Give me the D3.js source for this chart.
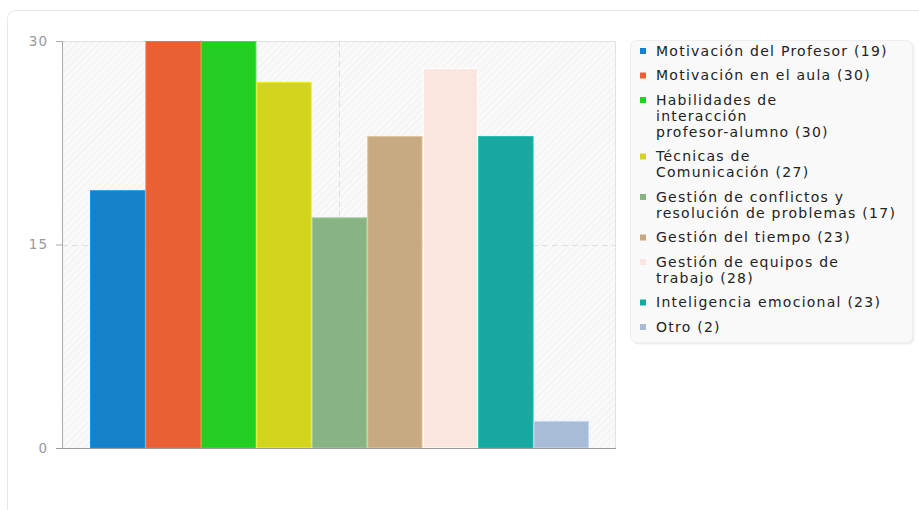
<!DOCTYPE html>
<html><head><meta charset="utf-8">
<script src="https://cdn.jsdelivr.net/npm/d3@7"></script>
<style>
body{margin:0;background:#fff;font-family:"DejaVu Sans",sans-serif;}
svg{display:block;}
</style></head>
<body>
<svg id="c" width="919" height="510"></svg>
<script>
const categories = ["Motivación del Profesor","Motivación en el aula","Habilidades de interacción profesor-alumno","Técnicas de Comunicación","Gestión de conflictos y resolución de problemas","Gestión del tiempo","Gestión de equipos de trabajo","Inteligencia emocional","Otro"];
const values = [19,30,30,27,17,23,28,23,2];
const colors = ["#1481c8","#e86033","#22cf22","#d2d41e","#88b383","#c8aa82","#fae6de","#17a89f","#a8bcd6"];
const legendLines = [
 ["Motivación del Profesor (19)"],
 ["Motivación en el aula (30)"],
 ["Habilidades de","interacción","profesor-alumno (30)"],
 ["Técnicas de","Comunicación (27)"],
 ["Gestión de conflictos y","resolución de problemas (17)"],
 ["Gestión del tiempo (23)"],
 ["Gestión de equipos de","trabajo (28)"],
 ["Inteligencia emocional (23)"],
 ["Otro (2)"]
];
const yTicks = [0,15,30];

const svg = d3.select("#c");
svg.append("rect").attr("x",7.5).attr("y",10.5).attr("width",930).attr("height",520).attr("rx",8)
  .attr("fill","#fff").attr("stroke","#e8e8e8");

const L=62,R=616,T=41,B=448;
const defs = svg.append("defs");
const pat = defs.append("pattern").attr("id","hatch").attr("patternUnits","userSpaceOnUse")
  .attr("width",5).attr("height",5).attr("patternTransform","rotate(45)");
pat.append("rect").attr("width",5).attr("height",5).attr("fill","#f9f9f9");
pat.append("line").attr("x1",0).attr("y1",0).attr("x2",0).attr("y2",5).attr("stroke","#efefef").attr("stroke-width",1.5);

svg.append("rect").attr("x",L).attr("y",T).attr("width",R-L).attr("height",B-T).attr("fill","url(#hatch)");
svg.append("path").attr("d",`M${L},${T+0.5}H${R-0.5}V${B}`).attr("fill","none").attr("stroke","#e2e2e2");

const y = d3.scaleLinear().domain([0,30]).range([B,T]);
const x = d3.scaleBand().domain(d3.range(categories.length)).range([90,589]).padding(0);

svg.append("line").attr("x1",L).attr("x2",R).attr("y1",Math.round(y(15))+0.5).attr("y2",Math.round(y(15))+0.5)
  .attr("stroke","#e0e0e0").attr("stroke-dasharray","6,4");
svg.append("line").attr("x1",339.5).attr("x2",339.5).attr("y1",T).attr("y2",B)
  .attr("stroke","#e0e0e0").attr("stroke-dasharray","6,4");

svg.selectAll("rect.bar").data(values).join("rect").attr("class","bar")
  .attr("x",(d,i)=>x(i)+0.5).attr("y",d=>y(d)+0.5)
  .attr("width",x.bandwidth()-1).attr("height",d=>B-y(d)-0.5)
  .attr("fill",(d,i)=>colors[i])
  .attr("stroke",(d,i)=>d3.color(colors[i]).brighter(0.4))
  .attr("stroke-width",1);

const ya = svg.append("g").attr("transform",`translate(${L},0)`)
  .call(d3.axisLeft(y).tickValues(yTicks).tickSize(6).tickPadding(8).tickFormat(d3.format("d")));
ya.select(".domain").attr("stroke","#aaa").attr("d",`M0.5,${T}V${B}`);
ya.selectAll(".tick line").attr("stroke","#aaa");
ya.selectAll("text").attr("fill","#999").attr("font-size",13.5).attr("letter-spacing",1).attr("font-family","DejaVu Sans");
svg.append("line").attr("x1",56).attr("x2",R).attr("y1",B+0.5).attr("y2",B+0.5).attr("stroke","#999");

const lg = svg.append("g");
lg.append("rect").attr("x",632.5).attr("y",42.5).attr("width",282).attr("height",302).attr("rx",6)
  .attr("fill","#e4e4e4").attr("opacity",0.6);
lg.append("rect").attr("x",630.5).attr("y",40.5).attr("width",282).attr("height",302).attr("rx",6)
  .attr("fill","#f9f9f9").attr("stroke","#eeeeee");
let cy = 51;
legendLines.forEach((lines,i)=>{
  lg.append("rect").attr("x",640).attr("y",cy-3).attr("width",6).attr("height",6).attr("fill",colors[i]);
  lines.forEach((t,j)=>{
    lg.append("text").attr("x",656).attr("y",cy+j*16).attr("dy","0.35em")
      .attr("font-size",14).attr("letter-spacing",1.25).attr("fill","#222").text(t);
  });
  cy += lines.length*16 + 8.5;
});
</script>
</body></html>
